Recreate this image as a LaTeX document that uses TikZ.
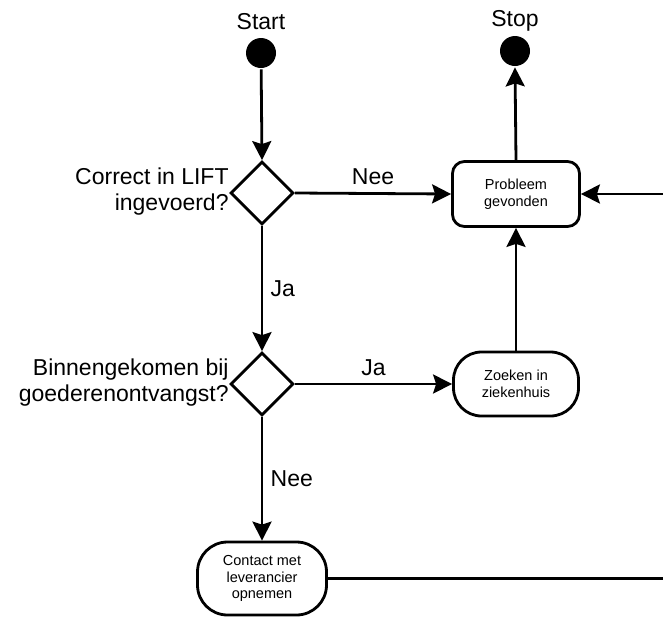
\documentclass[tikz,border=0pt]{standalone}
\usepackage{fontspec}
\setmainfont{Liberation Sans}
\usetikzlibrary{shapes.geometric,arrows.meta}
\begin{document}
\begin{tikzpicture}[x=1pt,y=-1pt,
  line width=2.8pt,
  conn/.style={-{Stealth[length=19pt,width=19pt,inset=3pt]}},
  dot/.style={circle,fill=black,draw=none,minimum size=30pt,inner sep=0pt},
  dec/.style={diamond,draw,minimum width=63pt,minimum height=63pt,inner sep=0pt,aspect=1},
  act/.style={draw,align=center,font=\fontsize{14.5}{16.5}\selectfont,inner sep=0pt},
  big/.style={font=\fontsize{23}{26}\selectfont},
  lbl/.style={big,align=right,inner sep=0pt}]
\useasboundingbox (0,0) rectangle (663,619);
\clip (0,0) rectangle (663,619);

\node[dot] (start) at (261,53) {};
\node[big] (starttxt) at (261,22) {Start};
\node[dot] (stop) at (515,51) {};
\node[big] (stoptxt) at (515,21) {Stop};

\node[dec] (d1) at (262,193) {};
\node[dec] (d2) at (262,384) {};

\node[act,minimum width=127pt,minimum height=65pt,rounded corners=12pt] (prob) at (516,194) {Probleem\\gevonden};
\node[act,minimum width=125pt,minimum height=64pt,rounded corners=28pt] (zoek) at (516,384) {Zoeken in\\ziekenhuis};
\node[act,minimum width=129pt,minimum height=73pt,rounded corners=30pt] (cont) at (262,578.5) {Contact met\\leverancier\\opnemen};

\node[lbl,anchor=east] (q1) at (230,192) {Correct in LIFT\\ingevoerd?};
\node[lbl,anchor=east] (q2) at (230,383) {Binnengekomen bij\\goederenontvangst?};

\draw[conn] (start) -- (d1.north);
\draw[conn] (d1.east) -- node[big,above=4pt] (nee1) {Nee} (prob.west);
\draw[conn] (d1.south) -- node[big,right=4pt] (ja1) {Ja} (d2.north);
\draw[conn] (d2.east) -- node[big,above=4pt] (ja2) {Ja} (zoek.west);
\draw[conn] (d2.south) -- node[big,right=4pt] (nee2) {Nee} (cont.north);
\draw[conn] (zoek.north) -- (prob.south);
\draw[conn] (prob.north) -- (stop.south);

\coordinate (rc) at (690,194);
\draw[conn] (cont.east) -- (cont.east -| rc) -- (rc) -- (prob.east);
\end{tikzpicture}
\end{document}
